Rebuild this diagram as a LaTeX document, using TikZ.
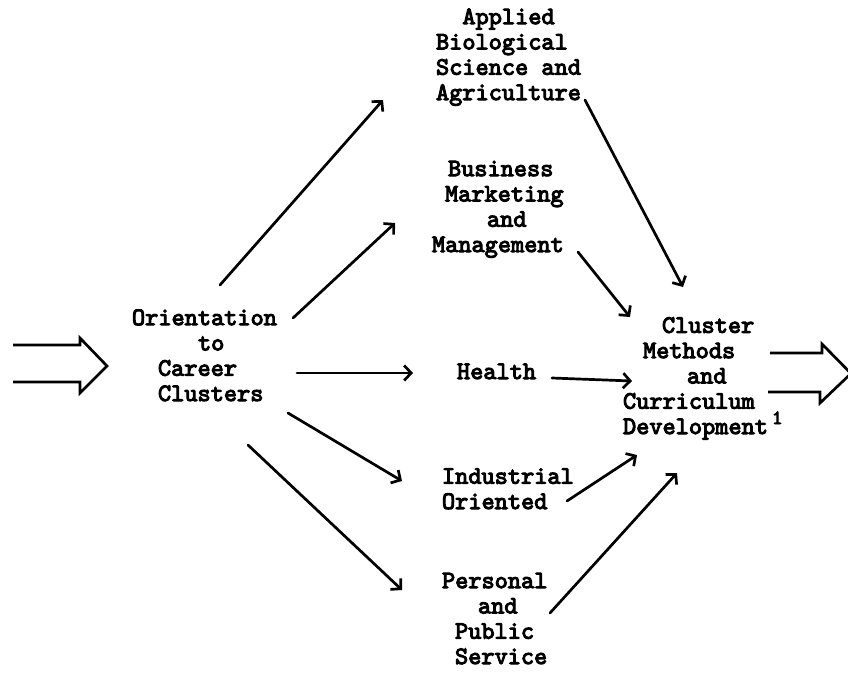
\documentclass[tikz,border=0pt]{standalone}
\usepackage{fontspec}
\newfontfamily\typewriter{lmmono10-regular.otf}[FakeBold=4]
\usetikzlibrary{arrows.meta}
\begin{document}
\begin{tikzpicture}[x=1pt,y=-1pt,
  lbl/.style={font=\typewriter\fontsize{25.1}{25.3}\selectfont, align=left, anchor=base west, inner sep=0pt, outer sep=0pt},
  conn/.style={line width=2.7pt, line cap=round, -{Straight Barb[length=7pt,width=15pt,line width=2.7pt]}},
  bigarrow/.style={line width=2.7pt, line join=miter}]
\useasboundingbox[fill=white] (0,0) rectangle (848,672);

% text blocks (anchor = baseline of last line)
\node[lbl] (app) at (436,100) {\hspace{26.4pt}Applied\\Biological\\Science and\\Agriculture};
\node[lbl] (bus) at (432,252) {\hspace{16pt}Business\\\hspace{13pt}Marketing\\\hspace{55pt}and\\Management};
\node[lbl] (ori) at (132,401) {Orientation\\\hspace{66pt}to\\\hspace{26pt}Career\\\hspace{26pt}Clusters};
\node[lbl] (hea) at (457,379) {Health};
\node[lbl] (cmc) at (623,434) {\hspace{39pt}Cluster\\\hspace{20pt}Methods\\\hspace{64pt}and\\Curriculum\\Development};
\node[lbl, font=\typewriter\fontsize{20}{22}\selectfont] (fn) at (772,424) {1};
\node[lbl] (ind) at (442,509) {Industrial\\Oriented};
\node[lbl] (per) at (442,664) {Personal\\\hspace{36pt}and\\\hspace{13pt}Public\\\hspace{13pt}Service};

% connector end points
\coordinate (o1) at (220,285); \coordinate (a1) at (383,100);
\coordinate (o2) at (293,318); \coordinate (b1) at (395,223);
\coordinate (o3) at (297,373); \coordinate (h1) at (413,373);
\coordinate (o4) at (288,413); \coordinate (i1) at (402,481);
\coordinate (o5) at (248,445); \coordinate (p1) at (402,590);
\coordinate (a2) at (585,100); \coordinate (c1) at (683,287);
\coordinate (b2) at (578,252); \coordinate (c2) at (630,317);
\coordinate (h2) at (552,378); \coordinate (c3) at (632,381);
\coordinate (i2) at (567,501); \coordinate (c4) at (637,455);
\coordinate (p2) at (550,613); \coordinate (c5) at (677,473);

\draw[conn] (o1) -- (a1);
\draw[conn] (o2) -- (b1);
\draw[conn] (o3) -- (h1);
\draw[conn] (o4) -- (i1);
\draw[conn] (o5) -- (p1);
\draw[conn] (a2) -- (c1);
\draw[conn] (b2) -- (c2);
\draw[conn] (h2) -- (c3);
\draw[conn] (i2) -- (c4);
\draw[conn] (p2) -- (c5);

% double arrows
\draw[bigarrow] (13,345) -- (80,345) -- (80,338) -- (107,366) -- (80,393) -- (80,382) -- (13,382);
\draw[bigarrow] (770,353) -- (822,353) -- (822,344) -- (851,373.5) -- (820,403) -- (820,392) -- (768,392);
\end{tikzpicture}
\end{document}
